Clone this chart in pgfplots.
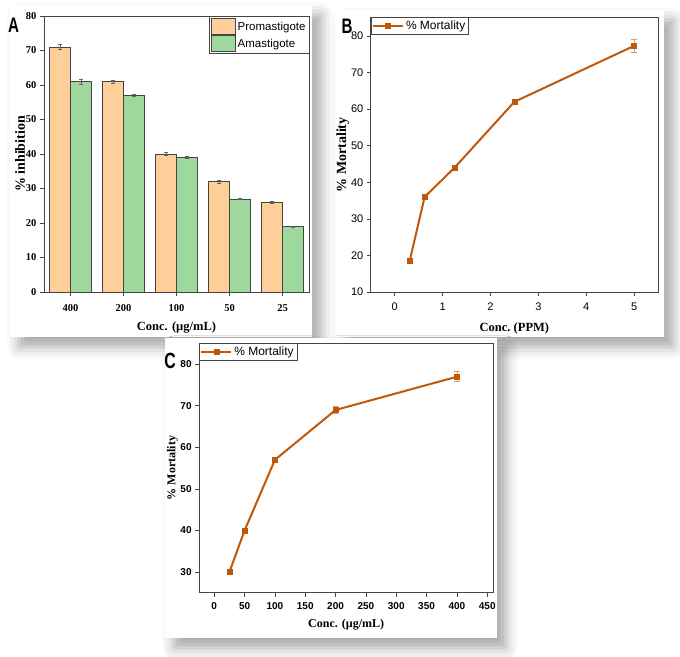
\documentclass[border=0pt]{standalone}
\usepackage{fontspec}
\setmainfont{Liberation Serif}
\setsansfont{Liberation Sans}
\usepackage{pgfplots}
\pgfplotsset{compat=1.18}
\usetikzlibrary{shadows.blur}
\definecolor{promo}{HTML}{FFCF9A}
\definecolor{amas}{HTML}{9ED89C}
\definecolor{mort}{HTML}{C0580C}
\definecolor{errc}{HTML}{E49A60}
\definecolor{axc}{HTML}{444444}

\pgfplotsset{
  common/.style={
    scale only axis, anchor=south west,
    tick align=outside, xtick pos=bottom, ytick pos=left,
    major tick length=4pt,
    axis line style={axc, line width=0.8pt},
    tick style={axc, line width=0.7pt},
    /pgf/number format/assume math mode=true,
  },
  mortleg/.style={
    legend style={at={(0,1)}, anchor=north west, draw=axc, line width=0.5pt,
      font=\fontsize{12}{13}\selectfont\sffamily, inner sep=1.2pt, outer sep=0pt},
    legend image code/.code={\draw[mark repeat=2,mark phase=2,##1] plot coordinates {(0pt,0pt) (15pt,0pt) (30pt,0pt)};},
  },
  mortline/.style={mort, line width=2pt, mark=square*, mark size=2.5pt,
    mark options={line width=0.4pt, fill=mort, draw=mort},
    error bars/.cd, y dir=both, y explicit,
    error bar style={errc, line width=0.6pt},
    error mark options={errc, rotate=90, mark size=2.8pt, line width=0.6pt}},
}

\begin{document}
\begin{tikzpicture}[x=1pt,y=1pt]
\path[use as bounding box] (0,0) rectangle (680,656);
% cards with shadows
\fill[white, blur shadow={shadow xshift=9pt, shadow yshift=-10pt, shadow blur radius=12pt, shadow opacity=35}] (10,319) rectangle (312,651);
\fill[white, blur shadow={shadow xshift=9pt, shadow yshift=-10pt, shadow blur radius=12pt, shadow opacity=35}] (336,319) rectangle (664,646);
\fill[white, blur shadow={shadow xshift=9pt, shadow yshift=-10pt, shadow blur radius=12pt, shadow opacity=35}] (165,18) rectangle (497,318);

% ---------------- Panel A ----------------
\begin{axis}[common,
  at={(44pt,364pt)}, width=265pt, height=276pt,
  xmin=-0.5, xmax=4.5, ymin=0, ymax=80,
  ybar=0pt, bar width=0.4,
  xtick={0,1,2,3,4}, xticklabels={400,200,100,50,25},
  ytick={0,10,...,80},
  tick label style={font=\fontsize{10.5}{11}\selectfont\bfseries},
  xticklabel shift=5pt,
  xlabel={Conc. (µg/mL)}, ylabel={\% inhibition},
  xlabel style={font=\fontsize{12.5}{13}\selectfont\bfseries, at={([yshift=-36pt]rel axis cs:0.5,0)}, anchor=center},
  ylabel style={font=\fontsize{14}{15}\selectfont\bfseries, at={([xshift=-24pt]rel axis cs:0,0.5)}, anchor=center},
  legend style={at={(1,1)}, anchor=north east, draw=axc, line width=0.5pt,
    font=\fontsize{11.5}{12}\selectfont\sffamily, inner sep=1.5pt, outer sep=0pt,
    cells={anchor=west}, row sep=1pt},
  legend image code/.code={\draw[#1] (0pt,-7pt) rectangle (24pt,9pt);},
]
\addplot[fill=promo, draw=axc, line width=0.6pt,
  error bars/.cd, y dir=both, y explicit,
  error bar style={black!60, line width=0.5pt},
  error mark options={black!60, rotate=90, mark size=2pt, line width=0.5pt}]
  coordinates {(0,71) +- (0,0.7) (1,61) +- (0,0.5) (2,40) +- (0,0.5) (3,32) +- (0,0.4) (4,26) +- (0,0.4)};
\addplot[fill=amas, draw=axc, line width=0.6pt,
  error bars/.cd, y dir=both, y explicit,
  error bar style={black!60, line width=0.5pt},
  error mark options={black!60, rotate=90, mark size=2pt, line width=0.5pt}]
  coordinates {(0,61) +- (0,0.8) (1,57) +- (0,0.4) (2,39) +- (0,0.3) (3,27) +- (0,0.2) (4,19) +- (0,0.2)};
\legend{Promastigote, Amastigote}
\end{axis}

% ---------------- Panel B ----------------
\begin{axis}[common, mortleg,
  at={(370.8pt,364pt)}, width=287.2pt, height=274.3pt,
  xmin=-0.5, xmax=5.5, ymin=10, ymax=85,
  xtick={0,1,2,3,4,5}, ytick={10,20,...,80},
  tick label style={font=\fontsize{11}{12}\selectfont\sffamily},
  xticklabel shift=3pt,
  xlabel={Conc.~(PPM)}, ylabel={\% Mortality},
  xlabel style={font=\fontsize{12.5}{13}\selectfont\bfseries, at={([yshift=-36pt]rel axis cs:0.5,0)}, anchor=center},
  ylabel style={font=\fontsize{14}{15}\selectfont\bfseries, at={([xshift=-28pt]rel axis cs:0,0.5)}, anchor=center},
]
\addplot[mortline] coordinates {(0.3125,18.5) +- (0,0.4) (0.625,36) +- (0,0.5) (1.25,44) +- (0,0.4) (2.5,62) +- (0,0.6) (5,77.3) +- (0,1.7)};
\legend{\% Mortality}
\end{axis}

% ---------------- Panel C ----------------
\begin{axis}[common, mortleg,
  at={(199.1pt,63.2pt)}, width=294.2pt, height=249.3pt,
  xmin=-25, xmax=460, ymin=25, ymax=85,
  xtick={0,50,...,450}, ytick={30,40,...,80},
  tick label style={font=\fontsize{10}{11}\selectfont\sffamily\bfseries},
  xticklabel shift=2pt,
  xlabel={Conc. (µg/mL)}, ylabel={\% Mortality},
  xlabel style={font=\fontsize{12}{13}\selectfont\bfseries, at={([yshift=-32pt]rel axis cs:0.5,0)}, anchor=center},
  ylabel style={font=\fontsize{12}{13}\selectfont\bfseries, at={([xshift=-26.5pt]rel axis cs:0,0.5)}, anchor=center},
]
\addplot[mortline] coordinates {(25,30) +- (0,0.4) (50,40) +- (0,0.5) (100,57) +- (0,0.7) (200,69) +- (0,0.8) (400,77) +- (0,1.2)};
\legend{\% Mortality}
\end{axis}

% panel letters
\node[font=\fontsize{21}{21}\selectfont\sffamily\bfseries] at (13.5,631) {\scalebox{0.72}[1]{A}};
\node[font=\fontsize{21}{21}\selectfont\sffamily\bfseries] at (347,630) {\scalebox{0.72}[1]{B}};
\node[font=\fontsize{22}{22}\selectfont\sffamily\bfseries] at (170,295) {\scalebox{0.72}[1]{C}};
\end{tikzpicture}
\end{document}
